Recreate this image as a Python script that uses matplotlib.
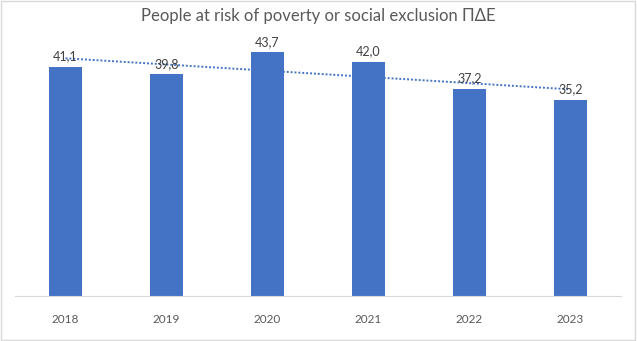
import numpy as np
import matplotlib.pyplot as plt
from matplotlib.patches import Rectangle

years = ["2018", "2019", "2020", "2021", "2022", "2023"]
values = [41.1, 39.8, 43.7, 42.0, 37.2, 35.2]

BAR_COLOR = "#4472C4"
TEXT_COLOR = "#595959"

plt.rcParams["font.family"] = ["Lato", "DejaVu Sans"]

fig = plt.figure(figsize=(6.37, 3.41), dpi=100)
fig.patches.append(
    Rectangle((0.002, 0.004), 0.995, 0.992, transform=fig.transFigure,
              fill=False, edgecolor="#D9D9D9", linewidth=1.0)
)

ax = fig.add_axes([15 / 637, 1 - 296 / 341, 606 / 637, 251 / 341])
x = np.arange(len(years))
bars = ax.bar(x, values, width=0.32, color=BAR_COLOR, zorder=2)

# linear trendline
slope, intercept = np.polyfit(x, values, 1)
ax.plot(x, slope * x + intercept, linestyle=(0, (1, 1)), color=BAR_COLOR,
        linewidth=1.4, zorder=3)

for xi, v in zip(x, values):
    ax.annotate(f"{v:.1f}".replace(".", ","), (xi, v), xytext=(0, 3),
                textcoords="offset points", ha="center", va="bottom",
                fontsize=9, color="#404040", zorder=4)

ax.set_xlim(-0.5, len(years) - 0.5)
ax.set_ylim(0, 45)
ax.set_xticks(x)
ax.set_xticklabels(years, fontsize=8.5, color=TEXT_COLOR)
ax.tick_params(axis="x", length=0, pad=13)
ax.set_yticks([])
for side in ["top", "left", "right"]:
    ax.spines[side].set_visible(False)
ax.spines["bottom"].set_color("#D9D9D9")
ax.set_facecolor("none")

fig.text(0.5, 1 - 16 / 341, "People at risk of poverty or social exclusion ΠΔΕ",
         ha="center", va="center", fontsize=12, color=TEXT_COLOR)

fig.savefig("out.png", dpi=100)
